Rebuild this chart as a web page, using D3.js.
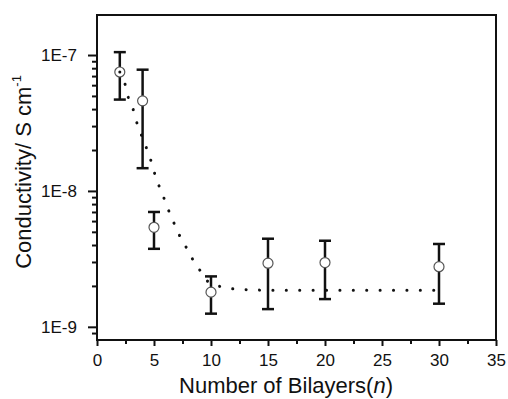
<!DOCTYPE html>
<html><head><meta charset="utf-8">
<script src="https://cdn.jsdelivr.net/npm/d3@7"></script>
<style>body{margin:0;background:#fff}svg{display:block}text{font-family:"Liberation Sans",Arial,sans-serif;fill:#111}</style>
</head><body><svg id="c" width="508" height="399"></svg>
<script>
const bilayers = [2, 4, 5, 10, 15, 20, 30];
const conductivity = [7.5e-8, 4.6e-8, 5.4e-9, 1.8e-9, 2.94e-9, 2.97e-9, 2.77e-9];
const errUpper = [1.05e-7, 7.8e-8, 7.0e-9, 2.35e-9, 4.45e-9, 4.3e-9, 4.07e-9];
const errLower = [4.7e-8, 1.47e-8, 3.75e-9, 1.25e-9, 1.35e-9, 1.6e-9, 1.48e-9];
const fitX = [2.0, 2.46, 2.75, 3.22, 3.57, 4.0, 4.82, 5.18, 5.7, 6.11, 6.64, 7.13, 7.75, 8.42, 9.12, 9.74, 10.26, 11.14, 12.0, 15, 20, 25, 30];
const fitY = [7.5e-8, 6.1e-8, 4.85e-8, 3.87e-8, 3.02e-8, 2.45e-8, 1.58e-8, 1.24e-8, 9.7e-9, 7.8e-9, 6.1e-9, 4.9e-9, 3.95e-9, 3.11e-9, 2.54e-9, 2.15e-9, 2.05e-9, 1.95e-9, 1.9e-9, 1.86e-9, 1.86e-9, 1.86e-9, 1.86e-9];
const xTicks = [0, 5, 10, 15, 20, 25, 30, 35];
const yTicks = [1e-9, 1e-8, 1e-7];
const yTickLabels = ["1E-9", "1E-8", "1E-7"];

const svg = d3.select("#c");
const L = 97, R = 496, T = 15, B = 340;
const x = d3.scaleLinear().domain([0, 35]).range([L, R]);
const y = d3.scaleLog().domain([8e-10, 1.97e-7]).range([B, T]);

const xMinor = d3.range(2.5, 35, 5);
const yMinor = [];
[1e-10, 1e-9, 1e-8, 1e-7].forEach(d => { for (let k = 2; k <= 9; k++) { const v = d * k; if (v > 8.01e-10 && v < 1.96e-7) yMinor.push(v); } });

svg.append("g").attr("transform", `translate(0,${B})`)
  .call(d3.axisBottom(x).tickValues(xTicks).tickSize(6).tickPadding(8).tickFormat(d3.format("d")));
svg.append("g").attr("transform", `translate(0,${B})`)
  .call(d3.axisBottom(x).tickValues(xMinor).tickSize(4).tickFormat(""));
svg.append("g").attr("transform", `translate(${L},0)`)
  .call(d3.axisLeft(y).tickValues(yTicks).tickSize(9).tickPadding(11).tickFormat((d, i) => yTickLabels[i]));
svg.append("g").attr("transform", `translate(${L},0)`)
  .call(d3.axisLeft(y).tickValues(yMinor).tickSize(5).tickFormat(""));
svg.selectAll(".tick line").attr("stroke", "#111").attr("stroke-width", 2);
svg.selectAll(".domain").remove();
svg.selectAll(".tick text").attr("font-size", 17).attr("fill", "#111").style("font-family", "Liberation Sans, Arial, sans-serif");

svg.append("rect").attr("x", L).attr("y", T).attr("width", R - L).attr("height", B - T)
  .attr("fill", "none").attr("stroke", "#111").attr("stroke-width", 2);

svg.append("path")
  .attr("d", d3.line().x((d, i) => x(fitX[i])).y((d, i) => y(fitY[i])).curve(d3.curveMonotoneX)(fitX))
  .attr("fill", "none").attr("stroke", "#111").attr("stroke-width", 3)
  .attr("stroke-linecap", "round").attr("stroke-dasharray", "0.1,13.3");

const eb = svg.append("g");
bilayers.forEach((n, i) => {
  const cx = x(n);
  eb.append("line").attr("x1", cx).attr("x2", cx).attr("y1", y(errUpper[i])).attr("y2", y(errLower[i]))
    .attr("stroke", "#111").attr("stroke-width", 2.5);
  [errUpper[i], errLower[i]].forEach(v => eb.append("line").attr("x1", cx - 6).attr("x2", cx + 6)
    .attr("y1", y(v)).attr("y2", y(v)).attr("stroke", "#111").attr("stroke-width", 2.5));
});
svg.append("g").selectAll("circle").data(bilayers).join("circle")
  .attr("cx", d => x(d)).attr("cy", (d, i) => y(conductivity[i])).attr("r", 5)
  .attr("fill", "#fff").attr("stroke", "#555").attr("stroke-width", 1.2);
svg.append("circle").attr("cx", x(fitX[0])).attr("cy", y(fitY[0])).attr("r", 1.5).attr("fill", "#111");

const xt = svg.append("text").attr("x", 286).attr("y", 393).attr("text-anchor", "middle").attr("font-size", 22);
xt.append("tspan").text("Number of Bilayers(");
xt.append("tspan").attr("font-style", "italic").text("n");
xt.append("tspan").text(")");
const yt = svg.append("text").attr("transform", `translate(31,172) rotate(-90)`).attr("text-anchor", "middle").attr("font-size", 22);
yt.append("tspan").text("Conductivity/ S cm");
yt.append("tspan").attr("font-size", 13).attr("dy", -10).text("-1");
</script></body></html>
